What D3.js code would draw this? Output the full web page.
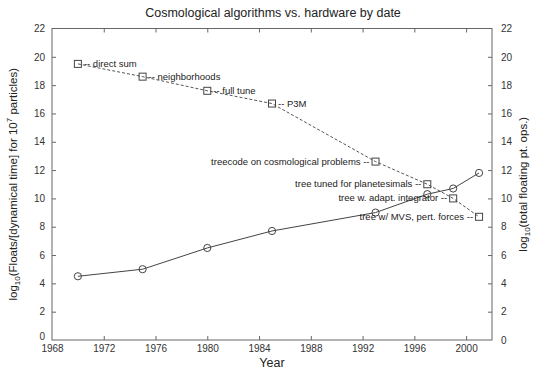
<!DOCTYPE html>
<html>
<head>
<meta charset="utf-8">
<script src="https://cdn.jsdelivr.net/npm/d3@7"></script>
<style>
  html, body { margin: 0; padding: 0; background: #fff; }
  svg { display: block; font-family: "Liberation Sans", Arial, Helvetica, sans-serif; }
  .tick line { stroke: #666; }
  .tick text { fill: #333; font-size: 10px; }
</style>
</head>
<body>
<svg id="chart" width="536" height="372"></svg>
<script>
// Dates of each milestone
const years = [1970, 1975, 1980, 1985, 1993, 1997, 1999, 2001];
// log10(floats per dynamical time for 10^7 particles) — algorithmic cost
const algorithmCost = [19.5, 18.6, 17.6, 16.7, 12.6, 11.0, 10.0, 8.7];
// log10(total floating point operations) — hardware capability
const hardwareOps = [4.5, 5.0, 6.5, 7.7, 9.0, 10.3, 10.7, 11.8];
// Algorithm names attached to the cost points
const algorithmNames = [
  "direct sum", "neighborhoods", "full tune", "P3M",
  "treecode on cosmological problems", "tree tuned for planetesimals",
  "tree w. adapt. integrator", "tree w/ MVS, pert. forces"
];
const xTicks = [1968, 1972, 1976, 1980, 1984, 1988, 1992, 1996, 2000];
const yTicks = [0, 2, 4, 6, 8, 10, 12, 14, 16, 18, 20, 22];

const W = 536, H = 372;
const m = { top: 28.5, right: 44, bottom: 32, left: 52 };
const iw = W - m.left - m.right, ih = H - m.top - m.bottom;

const svg = d3.select("#chart");
const g = svg.append("g").attr("transform", `translate(${m.left},${m.top})`);

const x = d3.scaleLinear().domain([1968, 2002]).range([0, iw]);
const y = d3.scaleLinear().domain([0, 22]).range([ih, 0]);

// Axes with inward ticks on all four sides
const tk = 4;
g.append("g").attr("transform", `translate(0,${ih})`)
  .call(d3.axisBottom(x).tickValues(xTicks).tickFormat(d3.format("d")).tickSizeInner(-tk).tickSizeOuter(0).tickPadding(5))
  .call(a => a.select(".domain").remove());
g.append("g")
  .call(d3.axisTop(x).tickValues(xTicks).tickFormat("").tickSizeInner(-tk).tickSizeOuter(0))
  .call(a => a.select(".domain").remove());
g.append("g")
  .call(d3.axisLeft(y).tickValues(yTicks).tickSizeInner(-tk).tickSizeOuter(0).tickPadding(7))
  .call(a => a.select(".domain").remove())
  .call(a => a.selectAll(".tick").filter(d => d === 0).select("text").attr("dy", "-0.05em"));
g.append("g").attr("transform", `translate(${iw},0)`)
  .call(d3.axisRight(y).tickValues(yTicks).tickSizeInner(-tk).tickSizeOuter(0).tickPadding(9))
  .call(a => a.select(".domain").remove());

g.selectAll(".tick line").filter(d => d === 0 || d === 22 || d === 1968).remove();

// Frame
g.append("rect").attr("width", iw).attr("height", ih)
  .attr("fill", "none").attr("stroke", "#666").attr("stroke-width", 1);

const pts = (vals) => years.map((yr, i) => [yr, vals[i]]);
const line = d3.line().x(d => x(d[0])).y(d => y(d[1]));

// Algorithm cost: dashed line with square markers
g.append("path").datum(pts(algorithmCost))
  .attr("d", line).attr("fill", "none")
  .attr("stroke", "#555").attr("stroke-width", 1).attr("stroke-dasharray", "3,2");
const s = 7;
g.selectAll(".sq").data(pts(algorithmCost)).join("rect")
  .attr("x", d => x(d[0]) - s / 2).attr("y", d => y(d[1]) - s / 2)
  .attr("width", s).attr("height", s)
  .attr("fill", "none").attr("stroke", "#444").attr("stroke-width", 1);

// Hardware: solid line with circle markers
g.append("path").datum(pts(hardwareOps))
  .attr("d", line).attr("fill", "none")
  .attr("stroke", "#444").attr("stroke-width", 1);
g.selectAll(".ci").data(pts(hardwareOps)).join("circle")
  .attr("cx", d => x(d[0])).attr("cy", d => y(d[1])).attr("r", 3.6)
  .attr("fill", "none").attr("stroke", "#444").attr("stroke-width", 1);

// Algorithm labels: early ones to the right, later ones to the left
g.selectAll(".lbl").data(algorithmNames).join("text")
  .attr("x", (d, i) => years[i] < 1990 ? x(years[i]) + 6 : x(years[i]) - 6)
  .attr("y", (d, i) => y(algorithmCost[i]) + 3)
  .attr("text-anchor", (d, i) => years[i] < 1990 ? "start" : "end")
  .attr("font-size", 9.5).attr("fill", "#222")
  .text((d, i) => years[i] < 1990 ? "-- " + d : d + " --");

// Title
svg.append("text").attr("x", 273).attr("y", 17).attr("text-anchor", "middle")
  .attr("font-size", 12.5).attr("fill", "#222")
  .text("Cosmological algorithms vs. hardware by date");

// X label
svg.append("text").attr("x", m.left + iw / 2).attr("y", 367).attr("text-anchor", "middle")
  .attr("font-size", 12.5).attr("fill", "#222").text("Year");

// Left Y label
const yl = svg.append("text")
  .attr("transform", `translate(17,${m.top + ih / 2}) rotate(-90)`)
  .attr("text-anchor", "middle").attr("font-size", 11.5).attr("fill", "#222");
yl.append("tspan").text("log");
yl.append("tspan").attr("font-size", 8).attr("dy", 3).text("10");
yl.append("tspan").attr("dy", -3).text("(Floats/[dynamical time] for 10");
yl.append("tspan").attr("font-size", 8).attr("dy", -5).text("7");
yl.append("tspan").attr("dy", 5).text(" particles)");

// Right Y label
const yr = svg.append("text")
  .attr("transform", `translate(527,${m.top + ih / 2}) rotate(-90)`)
  .attr("text-anchor", "middle").attr("font-size", 11.5).attr("fill", "#222");
yr.append("tspan").text("log");
yr.append("tspan").attr("font-size", 8).attr("dy", 3).text("10");
yr.append("tspan").attr("dy", -3).text("(total floating pt. ops.)");
</script>
</body>
</html>
